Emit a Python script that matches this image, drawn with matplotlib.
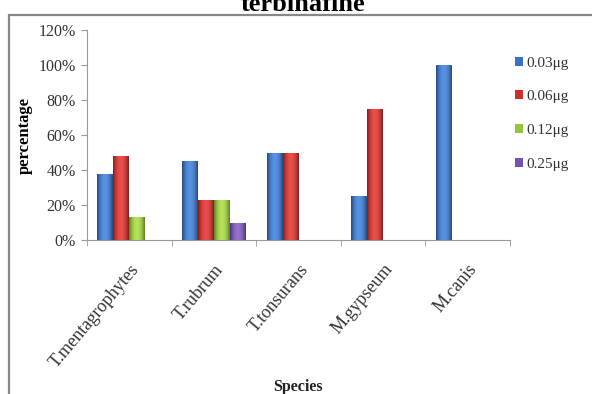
import matplotlib.pyplot as plt
import numpy as np
from matplotlib.patches import Rectangle
from matplotlib.ticker import FixedLocator
from matplotlib.colors import to_rgb

plt.rcParams['font.family'] = ['Liberation Serif', 'DejaVu Serif']

species = ['T.mentagrophytes', 'T.rubrum', 'T.tonsurans', 'M.gypseum', 'M.canis']
doses = ['0.03\u03bcg', '0.06\u03bcg', '0.12\u03bcg', '0.25\u03bcg']
pct_003 = [38, 45, 50, 25, 100]
pct_006 = [48, 23, 50, 75, 0]
pct_012 = [13, 23, 0, 0, 0]
pct_025 = [0, 10, 0, 0, 0]
series = [pct_003, pct_006, pct_012, pct_025]
colors = ['#3873C4', '#CC2F2C', '#97C43A', '#7452AE']

fig = plt.figure(figsize=(5.92, 3.94), dpi=100)
ax = fig.add_axes([87/592, 1 - 240/394, 423/592, 210/394])

x = np.arange(len(species))
w = 0.188


def shade(col):
    # darker edges, lighter middle: a simple cylinder look
    base = np.array(to_rgb(col))
    t = np.linspace(-1, 1, 32)
    k = 1 - 0.35 * t**2
    img = np.clip(base[None, :] * k[:, None] + 0.12 * (1 - t[:, None]**2), 0, 1)
    return img[None, :, :]


for i, (vals, c) in enumerate(zip(series, colors)):
    v = np.array(vals, dtype=float)
    v[v == 0] = np.nan
    bars = ax.bar(x + (i - 1.5) * w, v, w, color=c, edgecolor='none',
                  label=doses[i], zorder=2)
    for b in bars:
        if np.isnan(b.get_height()):
            continue
        x0, y0 = b.get_x(), b.get_y()
        im = ax.imshow(shade(c), extent=(x0, x0 + b.get_width(), y0, y0 + b.get_height()),
                       aspect='auto', zorder=3, interpolation='bilinear')
        im.set_clip_path(b)

ax.set_xlim(-0.5, 4.5)
ax.set_ylim(0, 120)
ax.set_yticks(range(0, 121, 20))
ax.set_yticklabels([f'{v}%' for v in range(0, 121, 20)], fontsize=11.5, color='#333333')
ax.set_xticks(x)
ax.set_xticklabels(species, rotation=50, ha='right', rotation_mode='anchor',
                   fontsize=13, color='#333333')
ax.xaxis.set_minor_locator(FixedLocator(np.arange(-0.5, 5, 1)))
ax.tick_params(axis='x', which='major', length=0, pad=15)
ax.tick_params(axis='x', which='minor', length=4, color='#999999')
ax.tick_params(axis='y', length=4, color='#999999', pad=4)

for s in ['top', 'right']:
    ax.spines[s].set_visible(False)
for s in ['left', 'bottom']:
    ax.spines[s].set_color('#999999')
    ax.spines[s].set_linewidth(0.8)

ax.set_ylabel('percentage', fontsize=12, fontweight='bold', labelpad=4)
fig.text(298/592, 1 - 387/394, 'Species', ha='center', va='center',
         fontsize=11.5, fontweight='bold', color='#222222')

leg = ax.legend(loc='upper left', bbox_to_anchor=(507/592, 1 - 49/394),
                bbox_transform=fig.transFigure, frameon=False, fontsize=11,
                handlelength=0.55, handleheight=0.55, handletextpad=0.2,
                labelspacing=1.35, borderpad=0)
for t in leg.get_texts():
    t.set_color('#333333')

# outer chart frame, clipped by the figure edge
fig.patches.append(Rectangle((9/592, -0.1), 1.2, 1 - 15/394 + 0.1,
                             transform=fig.transFigure, fill=False,
                             edgecolor='#888888', linewidth=1.6))

fig.text(303/592, 1 - 11/394, 'terbinafine', ha='center', va='baseline',
         fontsize=19, fontweight='bold')

fig.savefig('out.png', dpi=100)
